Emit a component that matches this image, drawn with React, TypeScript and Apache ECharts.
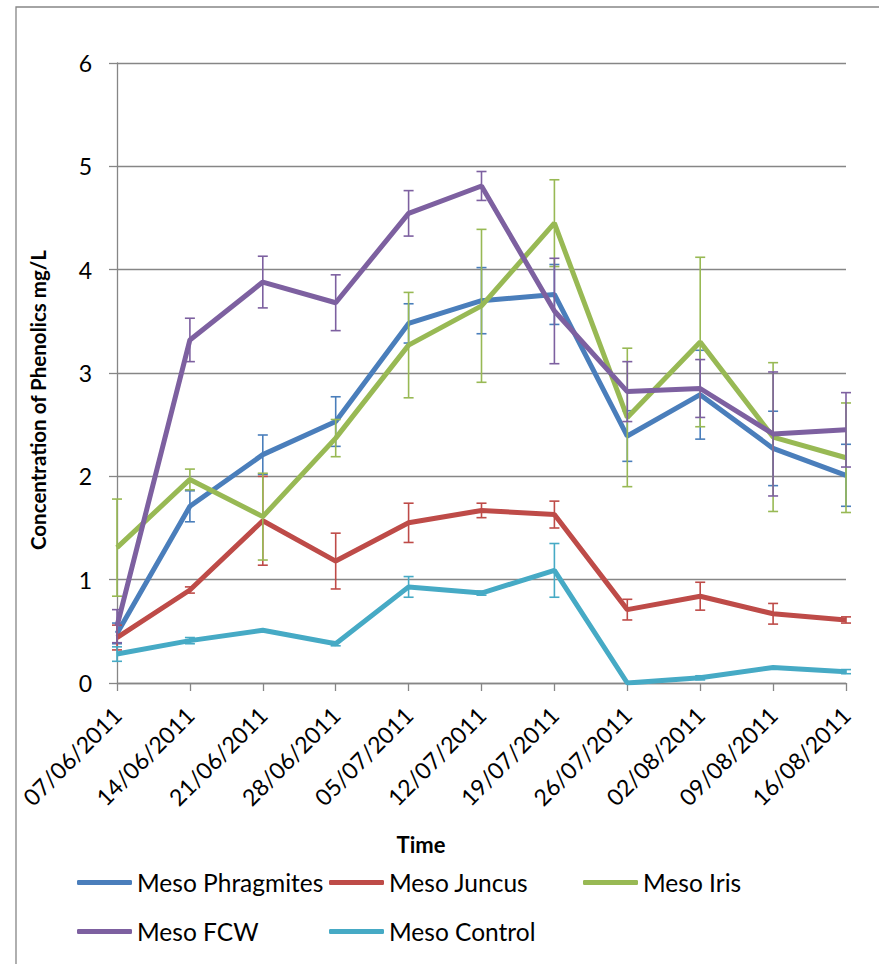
import React, { useEffect, useRef } from "react";
import * as echarts from "echarts";

const dates = [
  "07/06/2011", "14/06/2011", "21/06/2011", "28/06/2011", "05/07/2011", "12/07/2011",
  "19/07/2011", "26/07/2011", "02/08/2011", "09/08/2011", "16/08/2011",
];
const yTicks = [0, 1, 2, 3, 4, 5, 6];

const phragmites = [0.48, 1.71, 2.21, 2.53, 3.48, 3.7, 3.76, 2.39, 2.79, 2.27, 2.01];
const phragmitesErr = [0.1, 0.15, 0.19, 0.24, 0.19, 0.32, 0.29, 0.245, 0.43, 0.36, 0.3];
const juncus = [0.44, 0.9, 1.57, 1.18, 1.55, 1.67, 1.63, 0.71, 0.84, 0.67, 0.61];
const juncusErr = [0.12, 0.03, 0.43, 0.27, 0.19, 0.07, 0.13, 0.1, 0.135, 0.1, 0.03];
const iris = [1.31, 1.97, 1.61, 2.37, 3.27, 3.65, 4.45, 2.57, 3.3, 2.38, 2.18];
const irisErr = [0.47, 0.1, 0.42, 0.18, 0.51, 0.74, 0.42, 0.67, 0.82, 0.72, 0.53];
const fcw = [0.55, 3.32, 3.88, 3.68, 4.545, 4.81, 3.6, 2.82, 2.85, 2.41, 2.45];
const fcwErr = [0.16, 0.21, 0.25, 0.27, 0.22, 0.14, 0.51, 0.29, 0.28, 0.6, 0.36];
const control = [0.28, 0.41, 0.51, 0.38, 0.93, 0.87, 1.09, 0.0, 0.05, 0.15, 0.11];
const controlErr = [0.07, 0.03, 0, 0.02, 0.1, 0.02, 0.26, 0, 0.02, 0, 0.02];

const seriesDefs = [
  { name: "Meso Phragmites", values: phragmites, errs: phragmitesErr, color: "#4A7EBB" },
  { name: "Meso Juncus", values: juncus, errs: juncusErr, color: "#BE4B48" },
  { name: "Meso Iris", values: iris, errs: irisErr, color: "#98B954" },
  { name: "Meso FCW", values: fcw, errs: fcwErr, color: "#7D60A0" },
  { name: "Meso Control", values: control, errs: controlErr, color: "#46AAC5" },
];

const legendPos = [
  { left: 77, top: 883 },
  { left: 329, top: 883 },
  { left: 583, top: 883 },
  { left: 77, top: 932 },
  { left: 329, top: 932 },
];

const FONT = "Lato, 'Noto Sans', sans-serif";
const AXIS_GRAY = "#868686";

export default function App() {
  const ref = useRef<HTMLDivElement>(null);
  useEffect(() => {
    if (!ref.current) return;
    const chart = echarts.init(ref.current, undefined, { renderer: "svg" });
    const series: any[] = [];
    seriesDefs.forEach((s, si) => {
      series.push({
        name: s.name,
        type: "line",
        data: s.values,
        symbol: "none",
        lineStyle: { color: s.color, width: 5 },
        itemStyle: { color: s.color },
        z: 2 + si,
      });
      series.push({
        name: s.name + " error",
        type: "custom",
        data: s.values.map((v, i) => [i, v, s.errs[i]]),
        encode: { x: 0, y: 1 },
        z: 2 + si,
        renderItem: (params: any, api: any) => {
          const x = api.value(0);
          const y = api.value(1);
          const e = api.value(2);
          if (!e) return null;
          const top = api.coord([x, y + e]);
          const bot = api.coord([x, y - e]);
          const hw = 5;
          const st = { stroke: s.color, lineWidth: 1.6 };
          return {
            type: "group",
            children: [
              { type: "line", shape: { x1: top[0], y1: top[1], x2: bot[0], y2: bot[1] }, style: st },
              { type: "line", shape: { x1: top[0] - hw, y1: top[1], x2: top[0] + hw, y2: top[1] }, style: st },
              { type: "line", shape: { x1: bot[0] - hw, y1: bot[1], x2: bot[0] + hw, y2: bot[1] }, style: st },
            ],
          };
        },
      });
    });

    const legends = seriesDefs.map((s, i) => ({
      data: [s.name],
      left: legendPos[i].left,
      top: legendPos[i].top - 13,
      padding: 0,
      icon: "roundRect",
      itemWidth: 55,
      itemHeight: 5,
      selectedMode: false,
      textStyle: { color: "#000", fontFamily: FONT, fontSize: 24.5 },
    }));

    chart.setOption({
      animation: false,
      backgroundColor: "#fff",
      grid: { left: 117, top: 63, right: 33, bottom: 281, containLabel: false },
      xAxis: {
        type: "category",
        data: dates,
        boundaryGap: false,
        axisLine: { lineStyle: { color: AXIS_GRAY, width: 1.3 } },
        axisTick: { show: true, length: 8, interval: 0, lineStyle: { color: AXIS_GRAY, width: 1.3 } },
        axisLabel: { rotate: 45, margin: 28, interval: 0, color: "#000", fontFamily: FONT, fontSize: 23 },
        splitLine: { show: false },
      },
      yAxis: {
        type: "value",
        min: yTicks[0],
        max: yTicks[yTicks.length - 1],
        interval: 1,
        axisLine: { show: true, lineStyle: { color: AXIS_GRAY, width: 1.3 } },
        axisTick: { show: true, length: 8, lineStyle: { color: AXIS_GRAY, width: 1.3 } },
        axisLabel: { margin: 25, color: "#000", fontFamily: FONT, fontSize: 23 },
        splitLine: { show: true, lineStyle: { color: AXIS_GRAY, width: 1.3 } },
      },
      legend: legends,
      graphic: [
        {
          type: "rect",
          shape: { x: 16, y: 7, width: 900, height: 1000 },
          style: { fill: "none", stroke: AXIS_GRAY, lineWidth: 1.3 },
          silent: true,
          z: -10,
        },
        {
          type: "text",
          x: 421,
          y: 844,
          style: {
            text: "Time",
            textAlign: "center",
            textVerticalAlign: "middle",
            font: `bold 22px ${FONT}`,
            fill: "#000",
          },
        },
        {
          type: "text",
          x: 38,
          y: 400,
          rotation: Math.PI / 2,
          style: {
            text: "Concentration of Phenolics mg/L",
            textAlign: "center",
            textVerticalAlign: "middle",
            font: `bold 20.5px ${FONT}`,
            fill: "#000",
          },
        },
      ],
      series,
    });
    return () => chart.dispose();
  }, []);
  return (
    <div
      ref={ref}
      style={{ position: "absolute", left: 0, top: 0, width: 879, height: 964, background: "#fff" }}
    />
  );
}
